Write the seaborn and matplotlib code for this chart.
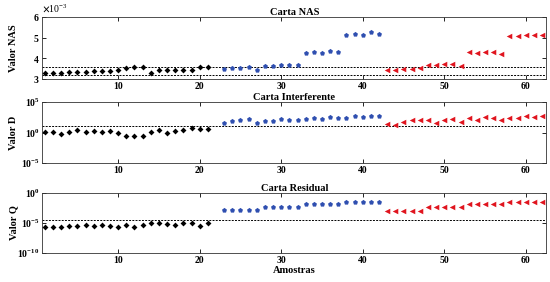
# Cartas de controle NAS, Interferente e Residual

import numpy as np
import pandas as pd
import matplotlib
matplotlib.use('Agg')
import matplotlib.pyplot as plt
import matplotlib.ticker as mticker
import seaborn as sb

# Amostras (a 22 nao aparece)
amostras_cal = list(range(1, 22))
amostras_a = list(range(23, 43))
amostras_b = list(range(43, 63))

# Carta NAS (valores em 1e-3)
nas_cal = [3.28, 3.28, 3.28, 3.34, 3.34, 3.36, 3.39, 3.39, 3.39, 3.44, 3.52,
           3.56, 3.59, 3.31, 3.41, 3.41, 3.44, 3.41, 3.45, 3.56, 3.56]
nas_a = [3.48, 3.52, 3.55, 3.56, 3.45, 3.62, 3.62, 3.67, 3.66, 3.69,
         4.25, 4.28, 4.25, 4.34, 4.30, 5.12, 5.19, 5.12, 5.25, 5.19]
nas_b = [3.44, 3.44, 3.48, 3.48, 3.52, 3.67, 3.67, 3.70, 3.72, 3.61,
         4.28, 4.27, 4.31, 4.31, 4.23, 5.08, 5.08, 5.14, 5.11, 5.11]
nas_lim = [3.59, 3.20]

# Carta Interferente (log10 de D)
d_cal = [0.03, 0.03, -0.30, 0.08, 0.36, 0.03, 0.25, 0.14, 0.19, -0.03, -0.58,
         -0.58, -0.64, 0.08, 0.47, -0.08, 0.19, 0.47, 0.80, 0.58, 0.52]
d_a = [1.52, 1.91, 2.13, 2.24, 1.52, 1.96, 1.91, 2.18, 2.13, 2.02,
       2.24, 2.46, 2.24, 2.57, 2.46, 2.46, 2.73, 2.51, 2.73, 2.68]
d_b = [1.41, 1.30, 1.80, 2.13, 2.02, 2.13, 1.57, 2.13, 2.29, 1.74,
       2.35, 2.07, 2.51, 2.46, 2.13, 2.40, 2.46, 2.79, 2.62, 2.68]
d_lim = 1.08

# Carta Residual (log10 de Q)
q_cal = [-5.61, -5.61, -5.67, -5.56, -5.56, -5.33, -5.44, -5.39, -5.50, -5.61, -5.33,
         -5.70, -5.39, -5.06, -5.06, -5.22, -5.33, -5.06, -5.08, -5.44, -5.08]
q_a = [-2.92, -2.92, -2.92, -2.92, -2.92, -2.35, -2.35, -2.35, -2.35, -2.35,
       -1.80, -1.80, -1.80, -1.80, -1.80, -1.48, -1.48, -1.48, -1.48, -1.48]
q_b = [-2.98, -2.98, -2.98, -2.98, -2.98, -2.35, -2.35, -2.35, -2.35, -2.35,
       -1.82, -1.82, -1.82, -1.82, -1.82, -1.47, -1.47, -1.47, -1.47, -1.47]
q_lim = -4.52

grupos = ["cal", "a", "b"]
cores = {"cal": "black", "a": "#2f4fb0", "b": "#e0141e"}
marcadores = {"cal": "D", "a": "p", "b": "<"}
tamanhos = {"cal": 9, "a": 14, "b": 16}

plt.rcParams['font.family'] = ['Liberation Serif', 'DejaVu Serif']
plt.rcParams['font.weight'] = 'bold'
plt.rcParams['mathtext.fontset'] = 'stix'

def monta_df(cal, a, b, escala):
    x = amostras_cal + amostras_a + amostras_b
    y = [escala(v) for v in cal + a + b]
    g = ["cal"] * len(cal) + ["a"] * len(a) + ["b"] * len(b)
    return pd.DataFrame({"Amostra": x, "valor": y, "grupo": g})

dfs = [monta_df(nas_cal, nas_a, nas_b, lambda v: v * 1e-3),
       monta_df(d_cal, d_a, d_b, lambda v: 10 ** v),
       monta_df(q_cal, q_a, q_b, lambda v: 10 ** v)]

fig = plt.figure(figsize=(5.5, 2.82), dpi=100)
posicoes = [[0.077, 0.720, 0.916, 0.220],
            [0.077, 0.422, 0.916, 0.216],
            [0.077, 0.103, 0.916, 0.213]]
titulos = ["Carta NAS", "Carta Interferente", "Carta Residual"]
ylabels = ["Valor NAS", "Valor D", "Valor Q"]

axes = []
for i, df in enumerate(dfs):
    ax = fig.add_axes(posicoes[i])
    axes.append(ax)
    for g in grupos:
        sub = df[df["grupo"] == g]
        sb.scatterplot(data=sub, x="Amostra", y="valor", ax=ax, color=cores[g],
                       marker=marcadores[g], s=tamanhos[g], linewidth=0,
                       legend=False, zorder=3)
    ax.set_xlim(0.7, 62.5)
    ax.set_xticks([10, 20, 30, 40, 50, 60])
    ax.tick_params(direction='in', top=True, right=True, length=3, width=0.6,
                   labelsize=7, pad=2)
    for s in ax.spines.values():
        s.set_linewidth(0.6)
        s.set_color("#333333")
    ax.set_title(titulos[i], fontsize=7.5, fontweight='bold', pad=1.5)
    ax.set_ylabel(ylabels[i], fontsize=7.5, fontweight='bold', labelpad=2)
    ax.set_xlabel("")

linha = dict(color='black', linestyle=(0, (2, 1.3)), linewidth=0.7, zorder=2)

# NAS
ax = axes[0]
ax.set_ylim(3e-3, 6e-3)
ax.set_yticks([3e-3, 4e-3, 5e-3, 6e-3])
fmt = mticker.ScalarFormatter(useMathText=True)
fmt.set_powerlimits((-2, 2))
ax.yaxis.set_major_formatter(fmt)
ax.yaxis.get_offset_text().set_fontsize(7)
ax.yaxis.get_offset_text().set_fontweight('normal')
for v in nas_lim:
    ax.axhline(v * 1e-3, **linha)

# D
ax = axes[1]
ax.set_yscale('log')
ax.set_ylim(1e-5, 1e5)
ax.set_yticks([1e-5, 1, 1e5])
ax.yaxis.set_minor_locator(mticker.NullLocator())
ax.axhline(10 ** d_lim, **linha)

# Q
ax = axes[2]
ax.set_yscale('log')
ax.set_ylim(1e-10, 1)
ax.set_yticks([1e-10, 1e-5, 1])
ax.yaxis.set_minor_locator(mticker.NullLocator())
ax.axhline(10 ** q_lim, **linha)
ax.set_xlabel("Amostras", fontsize=7.5, fontweight='bold', labelpad=1)

for ax in axes:
    for lab in ax.get_xticklabels() + ax.get_yticklabels():
        lab.set_fontweight('bold')
    ax.yaxis.set_label_coords(-0.048, 0.5)

plt.savefig("out.png", dpi=100)
